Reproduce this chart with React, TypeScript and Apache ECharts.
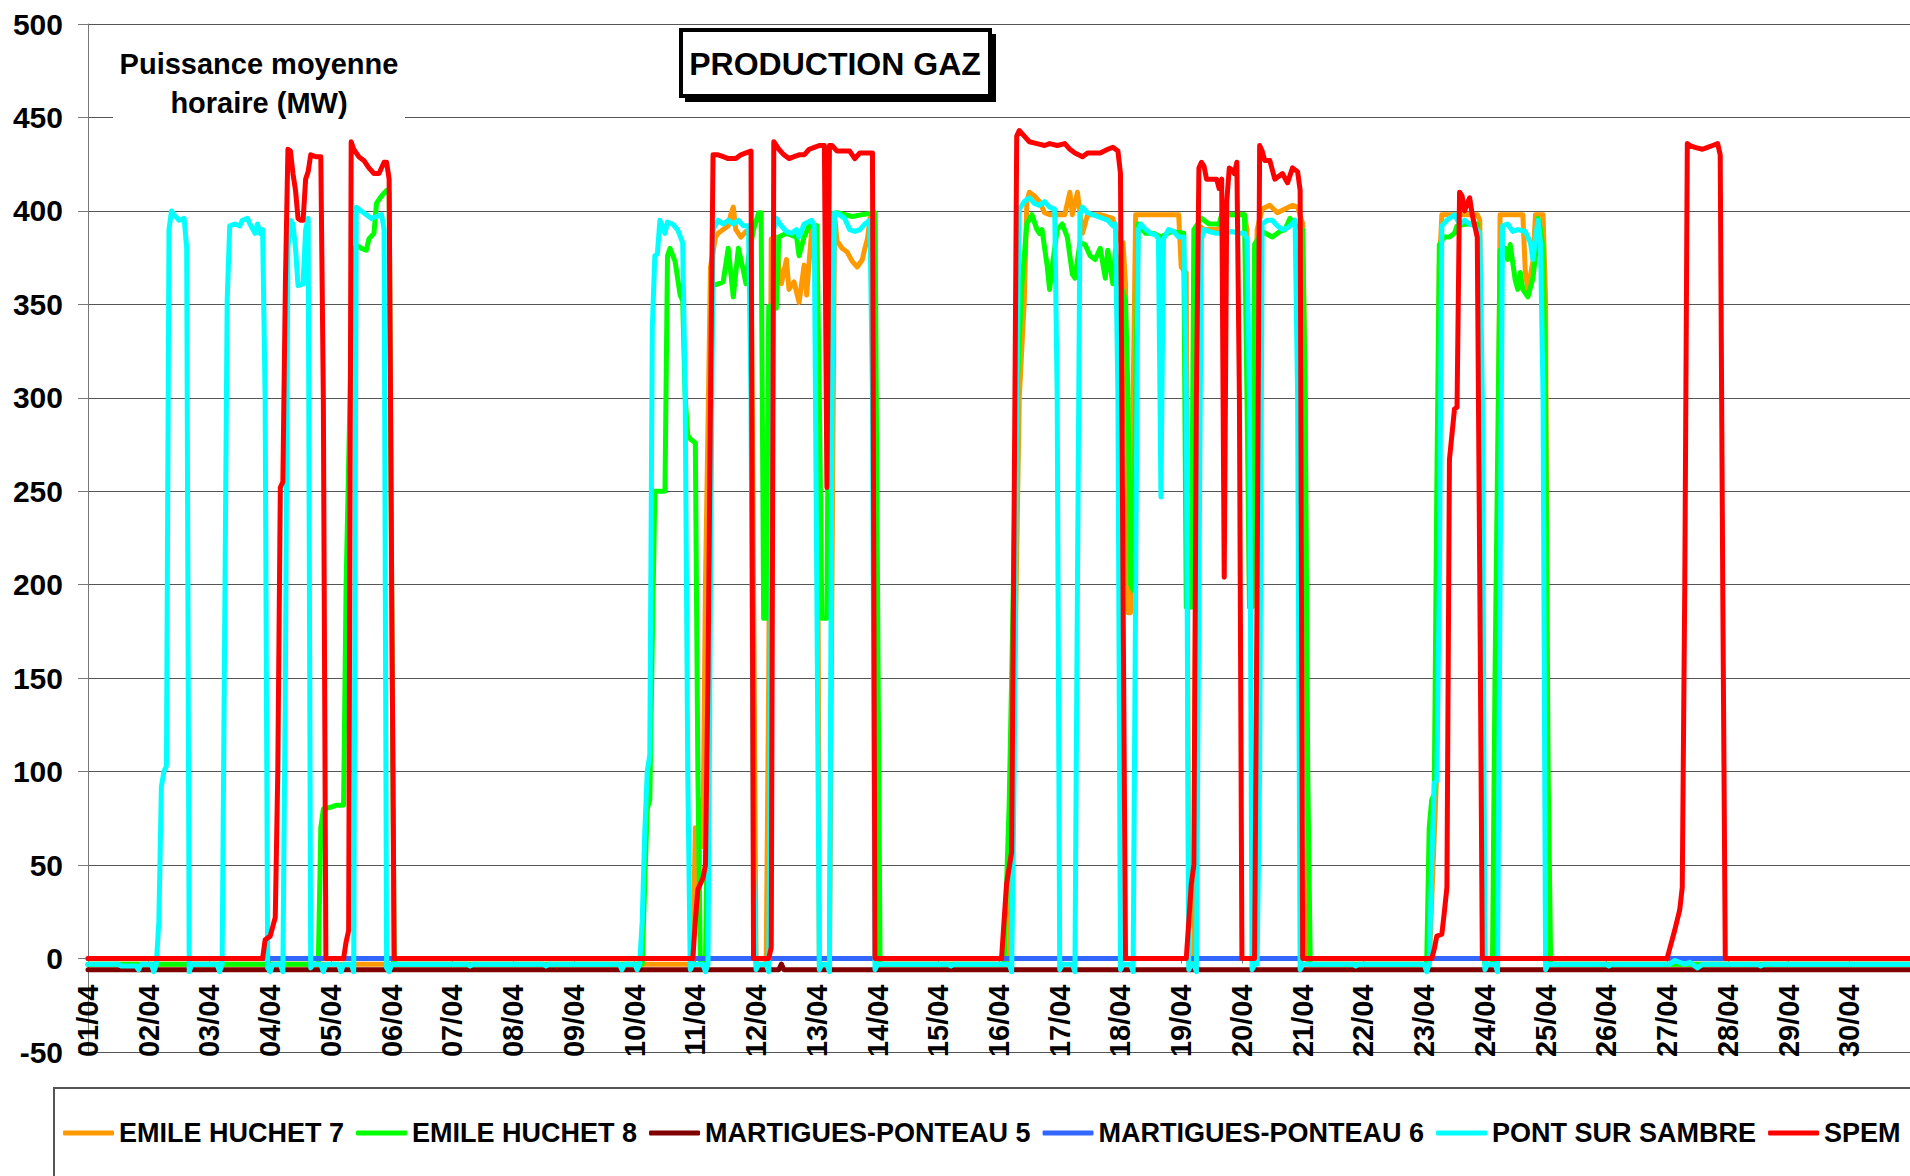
import React, { useEffect, useRef } from 'react';
import * as echarts from 'echarts';

const FONT = '"Liberation Sans", Arial, Helvetica, sans-serif';

// x = hour of the month (0 = 01/04 00h), y = MW
const DAY_LABELS = [
  '01/04', '02/04', '03/04', '04/04', '05/04', '06/04', '07/04', '08/04', '09/04', '10/04',
  '11/04', '12/04', '13/04', '14/04', '15/04', '16/04', '17/04', '18/04', '19/04', '20/04',
  '21/04', '22/04', '23/04', '24/04', '25/04', '26/04', '27/04', '28/04', '29/04', '30/04',
];

const Y_TICKS = { min: -50, max: 500, step: 50 };

const SERIES_NAMES = [
  'EMILE HUCHET 7',
  'EMILE HUCHET 8',
  'MARTIGUES-PONTEAU 5',
  'MARTIGUES-PONTEAU 6',
  'PONT SUR SAMBRE',
  'SPEM',
];

const SERIES_COLORS = ['#FF9900', '#00FF00', '#800000', '#3366FF', '#00FFFF', '#FF0000'];

const EMILE_HUCHET_7 = [
  [0, -3], [239, -3], [240, 70], [241, 26], [242, 85], [243, 60], [244, 200], [246, 370], [248, 386], [249, 388],
  [251, 390], [253, 392], [254, 398], [255, 402], [256, 390], [258, 386], [260, 389], [262, 388], [263, 200], [264, -3],
  [268, -3], [269, 150], [270, 385], [272, 386], [273, 370], [274, 361], [276, 374], [277, 358], [279, 362], [281, 351],
  [283, 371], [284, 355], [285, 373], [286, 390], [288, 392], [289, -3],
  [293, -3], [294, 200], [295, 398], [296, 384], [298, 380], [300, 378], [302, 373], [304, 370], [306, 374], [307, 380],
  [308, 385], [309, 396], [311, 398], [312, -3],
  [364, -3], [365, 50], [368, 300], [370, 352], [371, 405], [372, 410], [374, 408], [376, 405], [378, 399], [380, 398],
  [386, 398], [388, 410], [389, 398], [391, 410], [393, 388], [395, 398], [400, 398], [405, 396], [407, 385], [409, 383],
  [410, 361], [411, 185], [412, 185], [413, 300], [414, 398], [431, 398], [432, 370], [434, 367], [435, -3],
  [437, -3], [438, 300], [439, 392], [441, 390], [447, 390], [448, 398], [457, 398], [458, 390], [459, 188], [460, 188],
  [461, 300], [462, 390], [464, 401], [467, 403], [470, 399], [473, 401], [476, 403], [478, 402], [480, 393], [481, 300], [482, -3],
  [530, -3], [533, 100], [534, 370], [535, 398], [549, 398], [550, 395], [551, 200], [552, -3],
  [556, -3], [557, 200], [558, 398], [567, 398], [568, 367], [569, 358], [571, 373], [572, 398], [575, 398], [576, 352], [577, -3],
  [720, -3],
];

const EMILE_HUCHET_8 = [
  [0, -3], [91, -3], [92, 70], [93, 80], [96, 81], [98, 82], [101, 82], [102, 200], [104, 330], [105, 380], [107, 381],
  [108, 380], [110, 379], [111, 385], [113, 388], [114, 404], [116, 408], [118, 411], [119, 410], [120, 200], [121, -3],
  [219, -3], [220, 40], [221, 80], [222, 85], [223, 170], [224, 250], [228, 250], [229, 376], [230, 380], [232, 373],
  [234, 355], [235, 352], [236, 300], [237, 280], [238, 278], [240, 276], [241, 100], [242, -3],
  [244, -3], [245, 100], [246, 300], [247, 360], [249, 361], [251, 362], [253, 380], [255, 354], [257, 380], [259, 368],
  [260, 361], [261, 375], [263, 390], [265, 399], [266, 399], [267, 182], [268, 182], [269, 349], [272, 348], [273, 386],
  [276, 388], [278, 387], [280, 386], [281, 376], [283, 386], [285, 392], [288, 392], [289, 300], [290, 182], [292, 182],
  [293, 398], [296, 399], [302, 397], [306, 398], [311, 399], [312, 200], [313, -3],
  [362, -3], [363, 40], [364, 82], [365, 150], [367, 300], [369, 360], [370, 376], [371, 393], [373, 398], [375, 390],
  [376, 388], [377, 390], [379, 371], [380, 358], [381, 370], [383, 390], [385, 393], [387, 386], [389, 366], [390, 364],
  [392, 383], [394, 382], [396, 376], [398, 374], [400, 380], [402, 364], [403, 379], [405, 361], [406, 379], [408, 361],
  [410, 352], [411, 300], [412, 200], [413, 197], [414, 300], [415, 393], [418, 388], [421, 388], [424, 386], [428, 389],
  [433, 388], [434, 188], [436, 188], [437, 390], [440, 396], [443, 393], [447, 393], [448, 398], [457, 398], [458, 300],
  [459, 188], [460, 188], [461, 382], [464, 389], [468, 386], [471, 389], [473, 390], [475, 396], [477, 392], [480, 390],
  [481, 300], [482, 100], [483, -3],
  [529, -3], [530, 70], [531, 85], [532, 88], [533, 250], [534, 382], [536, 386], [538, 386], [540, 388], [541, 392],
  [545, 393], [549, 393], [550, 300], [551, 100], [552, -3],
  [555, -3], [556, 150], [558, 379], [560, 380], [561, 374], [562, 382], [564, 363], [565, 358], [566, 367], [567, 358],
  [569, 354], [571, 364], [572, 376], [573, 396], [574, 390], [575, 380], [576, 300], [577, 100], [578, -3],
  [720, -3],
];

const MARTIGUES_PONTEAU_5 = [[0, -6], [273, -6], [274, -3], [275, -6], [720, -6]];

const MARTIGUES_PONTEAU_6 = [[0, 0], [720, 0]];

const PONT_SUR_SAMBRE = [
  [0, -3], [12, -3], [13, -4], [19, -4], [20, -6], [21, -3], [25, -3], [26, -7], [27, -3],
  [28, 20], [29, 92], [30, 100], [31, 103], [32, 390], [33, 400], [34, 398], [36, 395], [38, 396], [39, 380], [40, -7], [41, -3],
  [51, -3], [52, -7], [53, -3], [55, 352], [56, 392], [58, 393], [60, 392], [61, 395], [63, 396], [64, 393], [66, 388],
  [67, 393], [68, 388], [69, 390], [70, 300], [71, -5], [72, -7], [73, -3],
  [76, -3], [77, -7], [78, 150], [79, 380], [80, 395], [81, 393], [82, 380], [83, 360], [85, 361], [86, 390], [87, 396], [88, -5], [89, -3],
  [92, -3], [93, -7], [94, -3], [99, -3], [100, -7], [101, -3], [104, -3], [105, -7], [106, 402], [108, 400], [110, 398],
  [112, 396], [114, 397], [116, 398], [117, 390], [118, -5], [119, -7], [120, -3],
  [150, -3], [151, -4], [152, -3], [180, -3], [181, -4], [182, -3],
  [210, -3], [211, -6], [212, -3], [216, -3], [217, -6], [218, -3], [219, 20], [220, 67], [221, 100], [222, 109], [223, 338],
  [224, 376], [225, 377], [226, 395], [227, 392], [228, 388], [229, 394], [231, 393], [233, 390], [235, 383], [236, 300],
  [237, 100], [238, -6], [239, -3],
  [243, -3], [244, -7], [245, -3], [246, 200], [247, 390], [249, 395], [251, 393], [253, 395], [255, 393], [257, 395],
  [259, 392], [261, 392], [262, 300], [263, 50], [264, -6], [265, -3],
  [268, -3], [269, -7], [270, 200], [271, 390], [272, 396], [274, 392], [276, 389], [278, 388], [280, 390], [281, 386],
  [283, 393], [286, 395], [287, 392], [288, 200], [289, -6], [290, -3],
  [292, -3], [293, -7], [294, 300], [295, 399], [297, 398], [299, 396], [301, 390], [303, 389], [305, 390], [307, 393],
  [309, 395], [310, 300], [311, -6], [312, -3],
  [340, -3], [341, -4], [342, -3],
  [364, -3], [365, -7], [366, 100], [367, 300], [368, 401], [370, 405], [372, 407], [374, 404], [376, 403], [378, 405],
  [380, 402], [382, 401], [383, 300], [384, -6], [385, -3],
  [389, -3], [390, -7], [391, 200], [392, 398], [393, 402], [395, 399], [397, 398], [399, 397], [401, 396], [403, 395],
  [405, 392], [406, 393], [407, 300], [408, -6], [409, -3],
  [412, -3], [413, -7], [414, 200], [415, 390], [416, 393], [418, 390], [420, 388], [422, 387], [423, 385], [424, 247],
  [425, 385], [427, 390], [429, 389], [431, 386], [433, 386], [434, 300], [435, -6], [436, -3],
  [437, -3], [438, -7], [439, 200], [440, 385], [441, 390], [443, 389], [446, 388], [449, 388], [452, 389], [455, 388],
  [457, 388], [458, 385], [459, 300], [460, -6], [461, -3],
  [462, -3], [463, 100], [464, 393], [466, 395], [468, 395], [470, 392], [472, 390], [474, 391], [475, 392], [477, 395],
  [478, 300], [479, -6], [480, -3],
  [500, -3], [501, -4], [502, -3],
  [528, -3], [529, -7], [530, -3], [531, 50], [532, 94], [533, 95], [534, 200], [535, 392], [537, 395], [539, 397],
  [540, 398], [542, 393], [544, 395], [546, 393], [548, 392], [550, 388], [551, 300], [552, -6], [553, -3],
  [556, -3], [557, -7], [558, 200], [559, 392], [561, 393], [563, 389], [565, 390], [568, 389], [570, 383], [571, 374],
  [572, 385], [573, 395], [574, 382], [575, 300], [576, -6], [577, -3],
  [600, -3], [601, -4], [602, -3], [625, -3], [627, -1], [629, -2], [631, -3], [633, -2], [636, -5], [638, -3],
  [660, -3], [661, -4], [662, -3], [720, -3],
];

const SPEM = [
  [0, 0], [69, 0], [70, 10], [72, 12], [74, 22], [75, 100], [76, 252], [77, 255], [78, 361], [79, 433], [80, 432],
  [81, 420], [82, 411], [83, 396], [84, 395], [85, 395], [86, 417], [87, 421], [88, 430], [90, 429], [92, 429], [93, 300], [94, 0],
  [101, 0], [102, 9], [103, 15], [104, 437], [105, 433], [107, 429], [109, 427], [111, 423], [113, 420], [115, 420],
  [117, 426], [118, 426], [119, 417], [120, 200], [121, 0],
  [239, 0], [240, 20], [241, 37], [243, 43], [244, 50], [245, 150], [246, 300], [247, 430], [249, 430], [251, 429],
  [253, 428], [256, 428], [258, 430], [260, 431], [262, 432], [263, 0],
  [269, 0], [270, 6], [271, 437], [273, 433], [275, 430], [277, 428], [279, 429], [281, 430], [283, 430], [285, 433],
  [287, 434], [289, 435], [291, 435], [292, 252], [293, 435], [294, 435], [296, 432], [298, 432], [301, 432], [303, 428],
  [305, 431], [308, 431], [310, 431], [311, 0],
  [361, 0], [362, 20], [363, 40], [365, 57], [366, 244], [367, 440], [368, 443], [370, 440], [372, 437], [375, 436],
  [378, 435], [380, 436], [383, 435], [386, 436], [388, 433], [390, 431], [393, 429], [395, 431], [397, 431], [400, 431],
  [403, 433], [405, 434], [407, 432], [408, 420], [409, 200], [410, 0],
  [434, 0], [435, 20], [436, 40], [437, 50], [438, 300], [439, 423], [440, 426], [441, 424], [442, 417], [444, 417],
  [446, 417], [447, 412], [448, 417], [449, 204], [450, 405], [451, 423], [452, 422], [453, 420], [454, 426], [455, 300], [456, 0],
  [461, 0], [462, 200], [463, 435], [464, 432], [465, 427], [467, 427], [469, 417], [471, 419], [472, 420], [474, 415],
  [476, 423], [478, 421], [479, 411], [480, 0],
  [531, 0], [532, 5], [533, 12], [535, 13], [536, 25], [537, 38], [538, 267], [540, 294], [541, 295], [542, 410],
  [543, 408], [544, 400], [545, 404], [546, 407], [547, 398], [548, 392], [549, 386], [550, 200], [551, 0],
  [624, 0], [625, 5], [627, 15], [629, 26], [630, 38], [631, 200], [632, 436], [633, 435], [635, 434], [638, 433],
  [640, 434], [642, 435], [644, 436], [645, 430], [646, 200], [647, 0], [720, 0],
];

const SERIES_DATA = [
  EMILE_HUCHET_7,
  EMILE_HUCHET_8,
  MARTIGUES_PONTEAU_5,
  MARTIGUES_PONTEAU_6,
  PONT_SUR_SAMBRE,
  SPEM,
];

const HOURS_IN_MONTH = DAY_LABELS.length * 24;

const GRID_TOP = 24;
const GRID_HEIGHT = 1028;
// the category axis crosses the value axis at 0 MW
const ZERO_OFFSET = -GRID_HEIGHT * (0 - Y_TICKS.min) / (Y_TICKS.max - Y_TICKS.min);

function buildOption() {
  return {
    animation: false,
    backgroundColor: '#ffffff',
    grid: { left: 88, top: GRID_TOP, width: 1827, height: GRID_HEIGHT, containLabel: false },
    xAxis: {
      type: 'value',
      min: 0,
      max: HOURS_IN_MONTH,
      interval: 24,
      offset: ZERO_OFFSET,
      axisLine: { show: true, onZero: false, lineStyle: { color: '#777777', width: 1 } },
      axisTick: { show: true, length: 5, lineStyle: { color: '#777777' } },
      splitLine: { show: false },
      axisLabel: {
        rotate: 90,
        margin: 26,
        fontSize: 29,
        fontWeight: 'bold',
        fontFamily: FONT,
        color: '#000000',
        showMaxLabel: false,
        formatter: (v: number) => DAY_LABELS[Math.round(v / 24)] ?? '',
      },
    },
    yAxis: {
      type: 'value',
      min: Y_TICKS.min,
      max: Y_TICKS.max,
      interval: Y_TICKS.step,
      axisLine: { show: true, lineStyle: { color: '#777777', width: 1 } },
      axisTick: { show: true, length: 10, lineStyle: { color: '#777777' } },
      splitLine: { show: true, lineStyle: { color: '#555555', width: 1 } },
      axisLabel: {
        margin: 25,
        fontSize: 30,
        fontWeight: 'bold',
        fontFamily: FONT,
        color: '#000000',
      },
    },
    legend: {
      show: true,
      left: 63,
      top: 1118,
      width: 3000,
      padding: 0,
      itemGap: 12,
      itemWidth: 51,
      itemHeight: 5,
      icon: 'roundRect',
      selectedMode: false,
      textStyle: { fontSize: 27, fontWeight: 'bold', fontFamily: FONT, color: '#000000', lineHeight: 30 },
      data: SERIES_NAMES,
    },
    graphic: [
      { type: 'rect', z: 100, shape: { x: 113, y: 38, width: 292, height: 85 }, style: { fill: '#ffffff' } },
      {
        type: 'text', z: 101, x: 259, y: 83,
        style: {
          text: 'Puissance moyenne\nhoraire (MW)',
          font: `bold 29px ${FONT}`,
          fill: '#000000',
          align: 'center', verticalAlign: 'middle',
          textAlign: 'center', textVerticalAlign: 'middle',
          lineHeight: 39,
        },
      },
      { type: 'rect', z: 100, shape: { x: 685, y: 34, width: 311, height: 68 }, style: { fill: '#000000' } },
      { type: 'rect', z: 101, shape: { x: 681, y: 30, width: 309, height: 66 }, style: { fill: '#ffffff', stroke: '#000000', lineWidth: 4 } },
      {
        type: 'text', z: 102, x: 835, y: 64,
        style: {
          text: 'PRODUCTION GAZ',
          font: `bold 32px ${FONT}`,
          fill: '#000000',
          align: 'center', verticalAlign: 'middle',
          textAlign: 'center', textVerticalAlign: 'middle',
        },
      },
      { type: 'rect', z: 100, shape: { x: 54, y: 1088, width: 1900, height: 200 }, style: { fill: 'none', stroke: '#555555', lineWidth: 2 } },
    ],
    series: SERIES_NAMES.map((name, i) => ({
      type: 'line',
      name,
      data: SERIES_DATA[i],
      symbol: 'none',
      showSymbol: false,
      silent: true,
      clip: true,
      color: SERIES_COLORS[i],
      itemStyle: { color: SERIES_COLORS[i] },
      lineStyle: { width: 5, color: SERIES_COLORS[i], cap: 'round', join: 'round' },
      z: 2 + i,
    })),
  };
}

export default function App() {
  const ref = useRef<HTMLDivElement>(null);
  useEffect(() => {
    if (!ref.current) return;
    const chart = echarts.init(ref.current, null, { renderer: 'svg' });
    chart.setOption(buildOption() as any);
    return () => chart.dispose();
  }, []);
  return (
    <div
      ref={ref}
      style={{ position: 'absolute', left: 0, top: 0, width: 1910, height: 1176, background: '#ffffff' }}
    />
  );
}
